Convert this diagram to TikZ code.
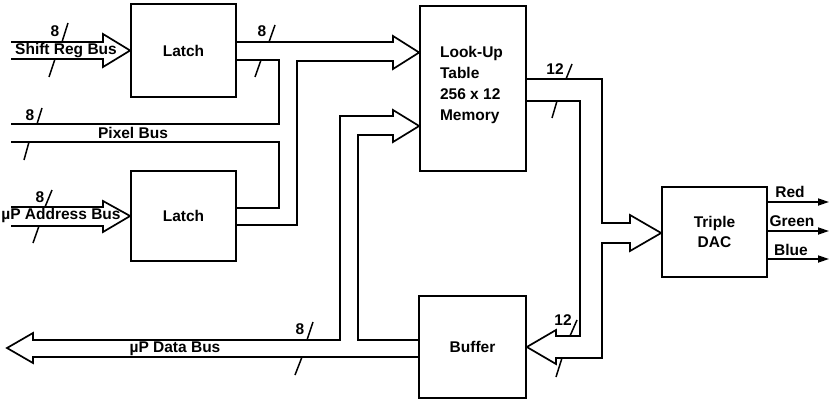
\documentclass[tikz,border=0pt]{standalone}
\usepackage{fontspec}
\setmainfont{Liberation Sans}
\usetikzlibrary{arrows.meta}
\begin{document}
\begin{tikzpicture}[x=1pt,y=-1pt, line width=1.7pt, line join=miter,
  box/.style={draw, inner sep=0pt, align=center, font=\fontsize{15.5}{20}\selectfont\bfseries},
  lbl/.style={font=\fontsize{15.5}{18}\selectfont\bfseries, inner sep=0pt},
  tick/.style={line width=1.5pt},
  outarrow/.style={-{Triangle[length=11pt,width=7pt]}}]
\useasboundingbox (0,0) rectangle (832,401);

% boxes
\node[box, minimum width=105pt, minimum height=93pt] (latch1) at (183.5,50.5) {Latch};
\node[box, minimum width=105pt, minimum height=90pt] (latch2) at (183.5,216) {Latch};
\node[box, minimum width=106pt, minimum height=165pt] (lut) at (473,88.5) {};
\node[lbl, align=left, font=\fontsize{15.5}{21}\selectfont\bfseries] (lutlbl) at (471.5,84.5) {Look-Up\\Table\\256 x 12\\Memory};
\node[box, minimum width=107pt, minimum height=102pt] (buffer) at (472.5,347) {Buffer};
\node[box, minimum width=105pt, minimum height=90pt] (dac) at (714.5,232) {Triple\\DAC};

% Shift Reg Bus into latch1
\draw (11,42) -- (103,42) -- (103,34) -- (latch1.west) -- (103,67) -- (103,59) -- (11,59);
% latch1 -> LUT (upper arrow), fed also by latch2
\draw (latch1.east |- 0,42) -- (393,42) -- (393,36) -- (lut.west |- 0,52.5) -- (393,69) -- (393,61) -- (297,61) -- (297,225) -- (latch2.east |- 0,225);
% Pixel bus
\draw (latch1.east |- 0,60) -- (279,60) -- (279,124) -- (11,124);
\draw (11,142) -- (279,142) -- (279,208) -- (latch2.east |- 0,208);
% uP Address bus
\draw (11,207) -- (103,207) -- (103,201) -- (latch2.west) -- (103,232) -- (103,226) -- (11,226);
% uP Data bus and lower arrow into LUT
\draw (buffer.west |- 0,357) -- (33,357) -- (33,363) -- (7,348) -- (33,333) -- (33,340) -- (340,340) -- (340,116) -- (393,116) -- (393,110) -- (lut.west |- 0,126) -- (393,142) -- (393,135) -- (358,135) -- (358,340) -- (buffer.west |- 0,340);
% LUT output to DAC and buffer
\draw (lut.east |- 0,79) -- (602,79) -- (602,223) -- (630,223) -- (630,215) -- (dac.west |- 0,233) -- (630,251) -- (630,243) -- (602,243) -- (602,358) -- (556,358) -- (556,364) -- (buffer.east |- 0,347) -- (556,330) -- (556,336) -- (580,336) -- (580,101) -- (lut.east |- 0,101);

% DAC outputs
\draw[outarrow] (dac.east |- 0,202) -- (829,202);
\draw[outarrow] (dac.east |- 0,231) -- (829,231);
\draw[outarrow] (dac.east |- 0,259) -- (829,259);
\node[lbl] (red) at (790,192) {Red};
\node[lbl] (green) at (792,221) {Green};
\node[lbl] (blue) at (791,250) {Blue};

% bus labels
\node[lbl] (srb) at (66,50.5) {Shift Reg Bus};
\node[lbl] (pxb) at (133,133) {Pixel Bus};
\node[lbl] (uab) at (61,215.5) {\textmu P Address Bus};
\node[lbl] (udb) at (175,348.5) {\textmu P Data Bus};

% width ticks
\node[lbl] (w1) at (55,31) {8};
\draw[tick] (62,42) -- (68,23);
\draw[tick] (49,77) -- (55,59);
\node[lbl] (w2) at (262,31) {8};
\draw[tick] (269,42) -- (275,25);
\draw[tick] (255,77) -- (261,60);
\node[lbl] (w3) at (30,115) {8};
\draw[tick] (37,124) -- (42,108);
\draw[tick] (24,160) -- (29,142);
\node[lbl] (w4) at (40,197) {8};
\draw[tick] (45,207) -- (52,190);
\draw[tick] (33,243) -- (39,226);
\node[lbl] (w5) at (300,329) {8};
\draw[tick] (307,340) -- (313,322);
\draw[tick] (295,375) -- (302,357);
\node[lbl] (w6) at (555,69) {12};
\draw[tick] (566,79) -- (572,64);
\draw[tick] (552,118) -- (557,101);
\node[lbl] (w7) at (563,320) {12};
\draw[tick] (570,336) -- (577,320);
\draw[tick] (556,377) -- (562,358);
\end{tikzpicture}
\end{document}
